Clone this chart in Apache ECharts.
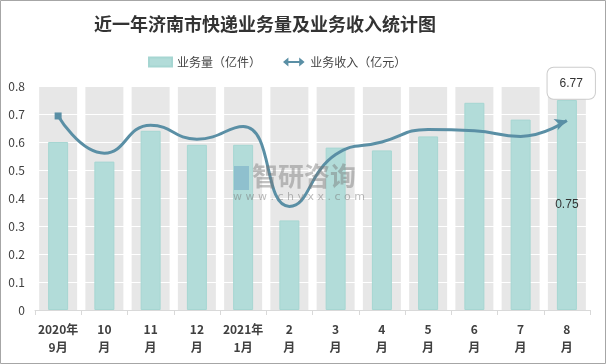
<!DOCTYPE html>
<html><head><meta charset="utf-8">
<script src="https://cdn.jsdelivr.net/npm/echarts@6/dist/echarts.min.js"></script>
<style>html,body{margin:0;padding:0;background:#fff}#c{width:606px;height:364px}</style>
</head><body><div id="c"></div>
<script>
var categories = ['2020年\n9月','10\n月','11\n月','12\n月','2021年\n1月','2\n月','3\n月','4\n月','5\n月','6\n月','7\n月','8\n月'];
var volume = [0.60, 0.53, 0.64, 0.59, 0.59, 0.32, 0.58, 0.57, 0.62, 0.74, 0.68, 0.75];
var revenue = [6.93, 5.6, 6.6, 6.1, 6.55, 3.7, 5.55, 6.0, 6.45, 6.4, 6.2, 6.77];
var yTicks = [0, 0.1, 0.2, 0.3, 0.4, 0.5, 0.6, 0.7, 0.8];
var bandMax = yTicks[yTicks.length - 1];

var chart = echarts.init(document.getElementById('c'));
var lineColor = '#5a8fa5';
var lineData = revenue.map(function (v, i) {
  if (i === 0) return { value: v, symbol: 'rect', symbolSize: 7, itemStyle: { color: lineColor } };
  if (i === revenue.length - 1) return {
    value: v, symbol: 'arrow', symbolSize: [9, 12], symbolRotate: -70,
    label: {
      show: true, position: 'top', distance: 16, offset: [10, 0],
      formatter: '{c}', color: '#333', fontSize: 12,
      backgroundColor: '#fff', borderColor: '#cccccc', borderWidth: 1, borderRadius: 6,
      padding: [10, 12, 9, 12]
    }
  };
  return { value: v, symbol: 'none' };
});
var volData = volume.map(function (v, i) {
  if (i === volume.length - 1) return { value: v, label: { show: true, position: 'inside', color: '#333', fontSize: 12 } };
  return v;
});
chart.setOption({
  animation: false,
  backgroundColor: '#fff',
  title: {
    text: '近一年济南市快递业务量及业务收入统计图', left: 260, top: 10, textAlign: 'center',
    textStyle: { fontFamily: 'Noto Sans CJK SC', fontWeight: 'bold', fontSize: 18, color: '#333' }
  },
  legend: {
    top: 51, left: 143, itemGap: 22, itemWidth: 23, itemHeight: 9,
    textStyle: { fontFamily: 'Noto Sans CJK SC', fontSize: 12, color: '#444' },
    data: [
      { name: '业务量（亿件）', icon: 'rect' },
      { name: '业务收入（亿元）', icon: 'path://M0,5 L6,0 L6,4 L18,4 L18,0 L24,5 L18,10 L18,6 L6,6 L6,10 Z' }
    ]
  },
  grid: { left: 35, right: 16, top: 86, bottom: 54 },
  xAxis: [{
    type: 'category', data: categories, boundaryGap: true, z: 1,
    axisLine: { lineStyle: { color: '#d9d9d9' } },
    axisTick: { show: true, length: 5, lineStyle: { color: '#d9d9d9' } },
    axisLabel: { fontFamily: 'Noto Sans CJK SC', fontWeight: 'bold', fontSize: 12, color: '#404040', lineHeight: 18, margin: 10, interval: 0 }
  }, {
    type: 'category', data: categories, show: false
  }],
  yAxis: [{
    type: 'value', min: 0, max: 0.8, interval: 0.1, z: 1,
    axisLine: { show: false }, axisTick: { show: false },
    axisLabel: { fontFamily: 'Noto Sans CJK SC', fontSize: 12, color: '#404040', margin: 10 },
    splitLine: { lineStyle: { color: '#ffffff', width: 1 } }
  }, {
    type: 'value', min: 0, max: 8, interval: 1, show: false, splitLine: { show: false }
  }],
  graphic: [
    { type: 'rect', shape: { x: 0.5, y: 0.5, width: 605, height: 363 }, style: { fill: 'none', stroke: '#a6a6a6', lineWidth: 1 }, z: 100 },
    { type: 'text', left: 252, top: 163, z: 50, style: { text: '智研咨询', font: 'bold 26px "Noto Sans CJK SC"', fill: 'rgba(120,120,120,0.45)' } },
    { type: 'text', left: 233, top: 192, z: 50, style: { text: 'w w w . c h y x x . c o m', font: '11px "DejaVu Sans"', fill: 'rgba(120,120,120,0.5)' } },
    { type: 'rect', left: 234, top: 166, z: 50, shape: { width: 15, height: 24 }, style: { fill: 'rgba(90,150,190,0.4)' } }
  ],
  series: [{
    name: 'band', type: 'bar', xAxisIndex: 1, yAxisIndex: 0, z: 0, silent: true,
    data: categories.map(function () { return bandMax; }), barWidth: 38,
    itemStyle: { color: '#e7e7e7' }
  }, {
    name: '业务量（亿件）', type: 'bar', xAxisIndex: 0, yAxisIndex: 0, z: 2,
    data: volData, barWidth: 20,
    itemStyle: { color: '#b2dcd9', borderColor: '#a6d6d2', borderWidth: 1 }
  }, {
    name: '业务收入（亿元）', type: 'line', xAxisIndex: 0, yAxisIndex: 1, z: 3,
    data: lineData, smooth: 0.5, symbol: 'none',
    lineStyle: { color: lineColor, width: 3 },
    itemStyle: { color: lineColor }
  }]
});
</script></body></html>
